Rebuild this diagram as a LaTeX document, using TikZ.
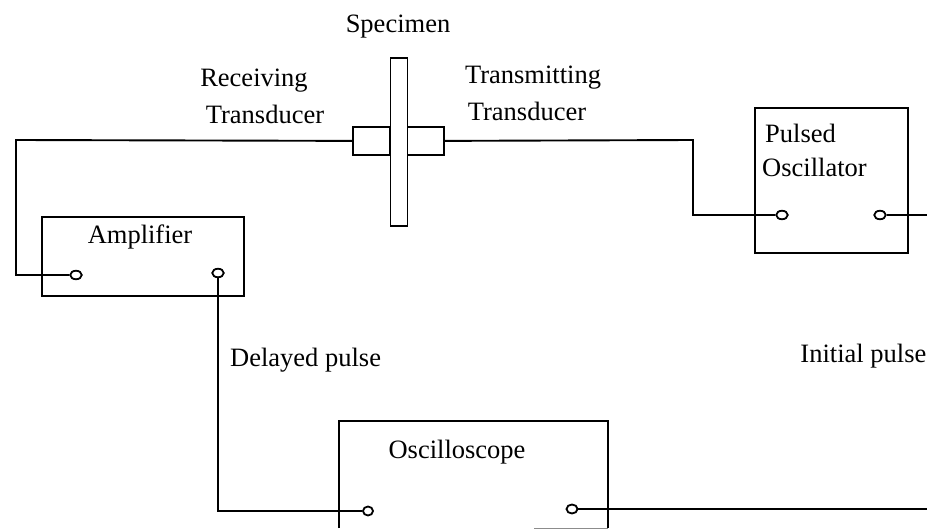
\documentclass[tikz,border=0pt]{standalone}
\usepackage{fontspec}
\setmainfont{Liberation Serif}
\usetikzlibrary{shapes.geometric}
\tikzset{
  x=1pt,y=-1pt,
  term/.style={draw=black,fill=white,line width=1.8pt,ellipse,inner sep=0pt,minimum width=11.5pt,minimum height=8.5pt},
  wire/.style={draw=black,line width=1.9pt,line join=miter},
  lbl/.style={font=\fontsize{26.5}{31}\selectfont,inner sep=0pt,text=black},
}
\begin{document}
\begin{tikzpicture}
\useasboundingbox (0,0) rectangle (927,529);
% boxes
\draw[wire] (42,217) rectangle (244,296);
\draw[wire] (755,108) rectangle (908,253);
\draw[wire] (339,528) -- (339,421) -- (608,421) -- (608,528);
\draw[draw=black!45,line width=1pt] (534,528) -- (608,528);
% transducers and specimen
\node[draw=black,line width=1.8pt,minimum width=37pt,minimum height=28pt,inner sep=0pt,anchor=north west] (rx) at (352,126) {};
\node[draw=black,line width=1.8pt,minimum width=37pt,minimum height=28pt,inner sep=0pt,anchor=north west] (tx) at (406,126) {};
\node[draw=black,fill=white,line width=1.9pt,minimum width=17pt,minimum height=168pt,inner sep=0pt,anchor=north west] (spec) at (389.5,57) {};
% terminals
\node[term] (ampin) at (76,275) {};
\node[term] (ampout) at (218,273) {};
\node[term] (oscin) at (782,215) {};
\node[term] (oscout) at (880,215) {};
\node[term,minimum width=10pt,minimum height=9pt] (scopein) at (368,511) {};
\node[term,minimum width=11pt,minimum height=9pt] (scopeout) at (572,509) {};
\coordinate (eastA) at (927,215);
\coordinate (eastB) at (927,509);
\coordinate (bendA) at (16,140);
\coordinate (bendB) at (16,275);
\coordinate (bendC) at (693,140);
\coordinate (bendD) at (693,215);
\coordinate (bendE) at (218,511);
% connectors
\draw[wire] (rx.west) -- (bendA) -- (bendB) -- (ampin.west);
\draw[wire] (tx.east) -- (bendC) -- (bendD) -- (oscin.west);
\draw[wire] (oscout.east) -- (eastA);
\draw[wire] (ampout.south) -- (bendE) -- (scopein.west);
\draw[wire] (scopeout.east) -- (eastB);
% labels
\node[lbl] (t1) at (398,27) {Specimen};
\node[lbl] (t2) at (254,81) {Receiving};
\node[lbl] (t3) at (265,114) {Transducer};
\node[lbl] (t4) at (533,78) {Transmitting};
\node[lbl] (t5) at (527,111) {Transducer};
\node[lbl,anchor=west] (t6) at (765,133) {Pulsed};
\node[lbl,anchor=west] (t7) at (762,167) {Oscillator};
\node[lbl] (t8) at (140,237) {Amplifier};
\node[lbl,anchor=west] (t9) at (230,360) {Delayed pulse};
\node[lbl,anchor=east] (t10) at (926.5,356) {Initial pulse};
\node[lbl] (t11) at (457,452) {Oscilloscope};
\end{tikzpicture}
\end{document}
